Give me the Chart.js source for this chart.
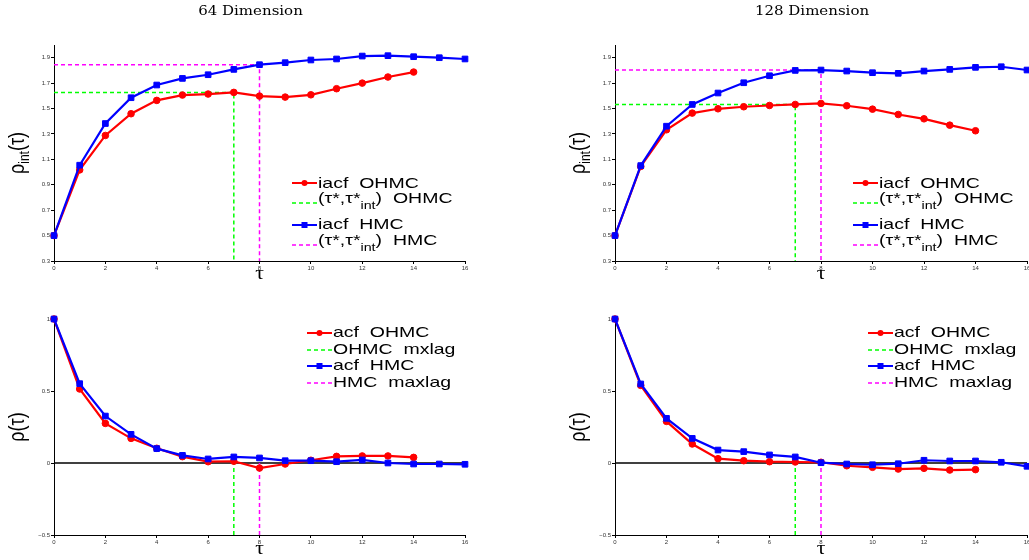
<!DOCTYPE html>
<html>
<head>
<meta charset="utf-8">
<script src="https://cdn.jsdelivr.net/npm/chart.js@4.4.1/dist/chart.umd.min.js"></script>
<style>
  html, body { margin: 0; padding: 0; background: #fff; overflow: hidden; width: 1029px; height: 560px; }
  .panel { position: absolute; }
</style>
</head>
<body>
<div class="panel" style="left:0;top:0"><canvas id="c64i" width="514" height="280"></canvas></div>
<div class="panel" style="left:520px;top:0"><canvas id="c128i" width="515" height="280"></canvas></div>
<div class="panel" style="left:0;top:280px"><canvas id="c64a" width="514" height="280"></canvas></div>
<div class="panel" style="left:520px;top:280px"><canvas id="c128a" width="515" height="280"></canvas></div>
<script>
// ---- data ----
const lags = [0, 1, 2, 3, 4, 5, 6, 7, 8, 9, 10, 11, 12, 13, 14, 15, 16];

// integrated autocorrelation, 64 dimension
const iacfOhmc64 = [0.50, 1.017, 1.288, 1.459, 1.564, 1.606, 1.614, 1.627, 1.598, 1.590, 1.608, 1.656, 1.700, 1.748, 1.787];
const iacfHmc64  = [0.50, 1.054, 1.382, 1.585, 1.685, 1.737, 1.766, 1.808, 1.845, 1.861, 1.882, 1.890, 1.913, 1.916, 1.908, 1.900, 1.890];

// integrated autocorrelation, 128 dimension
const iacfOhmc128 = [0.50, 1.044, 1.333, 1.464, 1.498, 1.514, 1.524, 1.532, 1.540, 1.522, 1.495, 1.453, 1.419, 1.369, 1.325];
const iacfHmc128  = [0.50, 1.051, 1.361, 1.532, 1.622, 1.703, 1.758, 1.800, 1.803, 1.795, 1.782, 1.777, 1.795, 1.808, 1.824, 1.829, 1.803];

// autocorrelation, 64 dimension
const acfOhmc64 = [1.0, 0.514, 0.275, 0.171, 0.102, 0.044, 0.009, 0.012, -0.035, -0.007, 0.019, 0.046, 0.049, 0.049, 0.039];
const acfHmc64  = [1.0, 0.551, 0.326, 0.199, 0.100, 0.053, 0.028, 0.042, 0.035, 0.016, 0.016, 0.009, 0.021, 0.0, -0.007, -0.007, -0.009];

// autocorrelation, 128 dimension
const acfOhmc128 = [1.0, 0.539, 0.289, 0.132, 0.030, 0.016, 0.009, 0.007, 0.005, -0.019, -0.030, -0.042, -0.037, -0.049, -0.046];
const acfHmc128  = [1.0, 0.549, 0.310, 0.171, 0.090, 0.079, 0.056, 0.042, 0.002, -0.007, -0.012, -0.005, 0.019, 0.014, 0.014, 0.005, -0.023];

const tauStarOhmc = 7;
const tauStarHmc = 8;

const xTicks = [0, 2, 4, 6, 8, 10, 12, 14, 16];
const yTicksIacf = [0.3, 0.5, 0.7, 0.9, 1.1, 1.3, 1.5, 1.7, 1.9];
const yTicksAcf = [-0.5, 0, 0.5, 1];
const xRange = [0, 16];
const yRangeIacf = [0.3, 2.0];
const yRangeAcf = [-0.5, 1];

// ---- helpers ----
const RED = '#ff0000', BLUE = '#0000ff', GREEN = '#00ff00', MAGENTA = '#ff00ff';
const SANS = '"Liberation Sans", Arial, sans-serif';
const SX = 1.3; // the original figure is stretched sideways

function pts(arr) {
  return arr.map((v, i) => ({ x: lags[i], y: v }));
}

function seriesSet(color, data, style) {
  return {
    data: pts(data), borderColor: color, backgroundColor: color,
    borderWidth: 2.2, pointStyle: style, pointRadius: style === 'rect' ? 4 : 3.3,
    pointBorderWidth: 1, clip: false
  };
}

function dashSet(color, data) {
  return { data: data, borderColor: color, borderWidth: 1.5, borderDash: [4, 3], pointRadius: 0 };
}

// draws a list of text pieces [{t, size, dy}] starting at x
function drawRich(ctx, segs, x, y, sx) {
  let cx = x;
  segs.forEach(s => {
    ctx.save();
    ctx.font = s.size + 'px ' + SANS;
    ctx.translate(cx, y + (s.dy || 0));
    ctx.scale(sx, 1);
    ctx.fillText(s.t, 0, 0);
    cx += ctx.measureText(s.t).width * sx;
    ctx.restore();
  });
  return cx - x;
}

function richWidth(ctx, segs) {
  let w = 0;
  segs.forEach(s => { ctx.font = s.size + 'px ' + SANS; w += ctx.measureText(s.t).width; });
  return w;
}

const decorPlugin = {
  id: 'decor',
  afterDraw(chart, args, opts) {
    const ctx = chart.ctx;
    const a = chart.chartArea;
    ctx.save();
    ctx.fillStyle = '#000';
    ctx.textBaseline = 'middle';

    // panel title
    if (opts.title) {
      ctx.save();
      ctx.font = '12px "DejaVu Serif", serif';
      ctx.textAlign = 'center';
      ctx.translate((a.left + a.right) / 2 - 9, 12);
      ctx.scale(1.25, 1);
      ctx.fillText(opts.title, 0, 0);
      ctx.restore();
    }

    // x axis title
    ctx.save();
    ctx.font = '18px "Liberation Serif", serif';
    ctx.textAlign = 'center';
    ctx.translate((a.left + a.right) / 2, a.bottom + opts.xTitleDy);
    ctx.scale(1.2, 1);
    ctx.fillText('τ', 0, 0);
    ctx.restore();

    // y axis title, rotated
    ctx.save();
    ctx.translate(a.left - 36, (a.top + a.bottom) / 2);
    ctx.scale(1.2, 1);
    ctx.rotate(-Math.PI / 2);
    const w = richWidth(ctx, opts.yTitle);
    drawRich(ctx, opts.yTitle, -w / 2, 0, 1);
    ctx.restore();

    // legend
    const lx = a.left + opts.legendDx;
    opts.legend.forEach(item => {
      const sy = a.top + item.sampleDy;
      ctx.save();
      ctx.strokeStyle = item.color;
      if (item.dashed) {
        ctx.lineWidth = 1.5;
        ctx.setLineDash([4, 3]);
      } else {
        ctx.lineWidth = 2;
      }
      ctx.beginPath();
      ctx.moveTo(lx, sy);
      ctx.lineTo(lx + 25, sy);
      ctx.stroke();
      ctx.setLineDash([]);
      ctx.fillStyle = item.color;
      if (item.marker === 'circle') {
        ctx.beginPath();
        ctx.arc(lx + 12.5, sy, 3, 0, Math.PI * 2);
        ctx.fill();
      } else if (item.marker === 'rect') {
        ctx.fillRect(lx + 9.5, sy - 3, 6, 6);
      }
      ctx.restore();
      drawRich(ctx, item.segs, lx + 26, a.top + item.textDy, SX);
    });
    ctx.restore();
  }
};

function scaleX(height) {
  return {
    type: 'linear', min: xRange[0], max: xRange[1],
    afterBuildTicks: s => { s.ticks = xTicks.map(v => ({ value: v })); },
    afterFit: s => { s.height = height; },
    grid: { drawOnChartArea: false, color: '#000', tickLength: 3 },
    border: { color: '#000', width: 1 },
    ticks: { font: { size: 6, family: SANS }, color: '#333', padding: 1, maxRotation: 0, autoSkip: false }
  };
}

function scaleY(range, tickList, width) {
  return {
    min: range[0], max: range[1],
    afterBuildTicks: s => { s.ticks = tickList.map(v => ({ value: v })); },
    afterFit: s => { s.width = width; },
    grid: { drawOnChartArea: false, color: '#000', tickLength: 3 },
    border: { color: '#000', width: 1 },
    ticks: {
      font: { size: 6, family: SANS }, color: '#333', padding: 1, autoSkip: false,
      callback: v => (v < 0 ? '\u2212' + Math.abs(v) : String(v))
    }
  };
}

const tauSegs = [{ t: '(τ*,τ*', size: 15 }, { t: 'int', size: 11, dy: 7 }];
const legendIacf = [
  { color: RED, marker: 'circle', sampleDy: 138, textDy: 139, segs: [{ t: 'iacf  OHMC', size: 15 }] },
  { color: GREEN, dashed: true, sampleDy: 158, textDy: 154, segs: tauSegs.concat([{ t: ')  OHMC', size: 15 }]) },
  { color: BLUE, marker: 'rect', sampleDy: 180, textDy: 180, segs: [{ t: 'iacf  HMC', size: 15 }] },
  { color: MAGENTA, dashed: true, sampleDy: 200, textDy: 196, segs: tauSegs.concat([{ t: ')  HMC', size: 15 }]) }
];
const legendAcf = [
  { color: RED, marker: 'circle', sampleDy: 14, textDy: 14, segs: [{ t: 'acf  OHMC', size: 15 }] },
  { color: GREEN, dashed: true, sampleDy: 31, textDy: 31, segs: [{ t: 'OHMC  mxlag', size: 15 }] },
  { color: BLUE, marker: 'rect', sampleDy: 47, textDy: 47, segs: [{ t: 'acf  HMC', size: 15 }] },
  { color: MAGENTA, dashed: true, sampleDy: 64, textDy: 64, segs: [{ t: 'HMC  maxlag', size: 15 }] }
];

function iacfChart(id, title, ohmc, hmc, yWidth, padLeft, padRight) {
  const hO = ohmc[tauStarOhmc], hH = hmc[tauStarHmc];
  new Chart(document.getElementById(id), {
    type: 'line',
    data: {
      datasets: [
        seriesSet(BLUE, hmc, 'rect'),
        seriesSet(RED, ohmc, 'circle'),
        dashSet(MAGENTA, [{ x: xRange[0], y: hH }, { x: tauStarHmc, y: hH }, { x: tauStarHmc, y: yRangeIacf[0] }]),
        dashSet(GREEN, [{ x: xRange[0], y: hO }, { x: tauStarOhmc, y: hO }, { x: tauStarOhmc, y: yRangeIacf[0] }])
      ]
    },
    options: {
      responsive: false, animation: false, devicePixelRatio: 1,
      layout: { padding: { left: padLeft, top: 45, right: padRight, bottom: 0 } },
      scales: { x: scaleX(19), y: scaleY(yRangeIacf, yTicksIacf, yWidth) },
      plugins: {
        legend: { display: false }, tooltip: { enabled: false },
        decor: {
          title: title, xTitleDy: 13, legendDx: 238, legend: legendIacf,
          yTitle: [{ t: 'ρ', size: 18 }, { t: 'int', size: 12, dy: 6 }, { t: '(τ)', size: 18 }]
        }
      }
    },
    plugins: [decorPlugin]
  });
}

function acfChart(id, ohmc, hmc, yWidth, padLeft, padRight) {
  new Chart(document.getElementById(id), {
    type: 'line',
    data: {
      datasets: [
        seriesSet(BLUE, hmc, 'rect'),
        seriesSet(RED, ohmc, 'circle'),
        dashSet(MAGENTA, [{ x: tauStarHmc, y: yRangeAcf[0] }, { x: tauStarHmc, y: 0 }]),
        dashSet(GREEN, [{ x: tauStarOhmc, y: yRangeAcf[0] }, { x: tauStarOhmc, y: 0 }]),
        { data: [{ x: xRange[0], y: 0 }, { x: xRange[1], y: 0 }], borderColor: '#000', borderWidth: 1.3, pointRadius: 0 }
      ]
    },
    options: {
      responsive: false, animation: false, devicePixelRatio: 1,
      layout: { padding: { left: padLeft, top: 39, right: padRight, bottom: 0 } },
      scales: { x: scaleX(25), y: scaleY(yRangeAcf, yTicksAcf, yWidth) },
      plugins: {
        legend: { display: false }, tooltip: { enabled: false },
        decor: {
          title: null, xTitleDy: 14, legendDx: 253, legend: legendAcf,
          yTitle: [{ t: 'ρ(τ)', size: 18 }]
        }
      }
    },
    plugins: [decorPlugin]
  });
}

iacfChart('c64i', '64 Dimension', iacfOhmc64, iacfHmc64, 54, 0, 49);
iacfChart('c128i', '128 Dimension', iacfOhmc128, iacfHmc128, 95, 0, 8);
acfChart('c64a', acfOhmc64, acfHmc64, 54, 0, 49);
acfChart('c128a', acfOhmc128, acfHmc128, 95, 0, 8);
</script>
</body>
</html>
